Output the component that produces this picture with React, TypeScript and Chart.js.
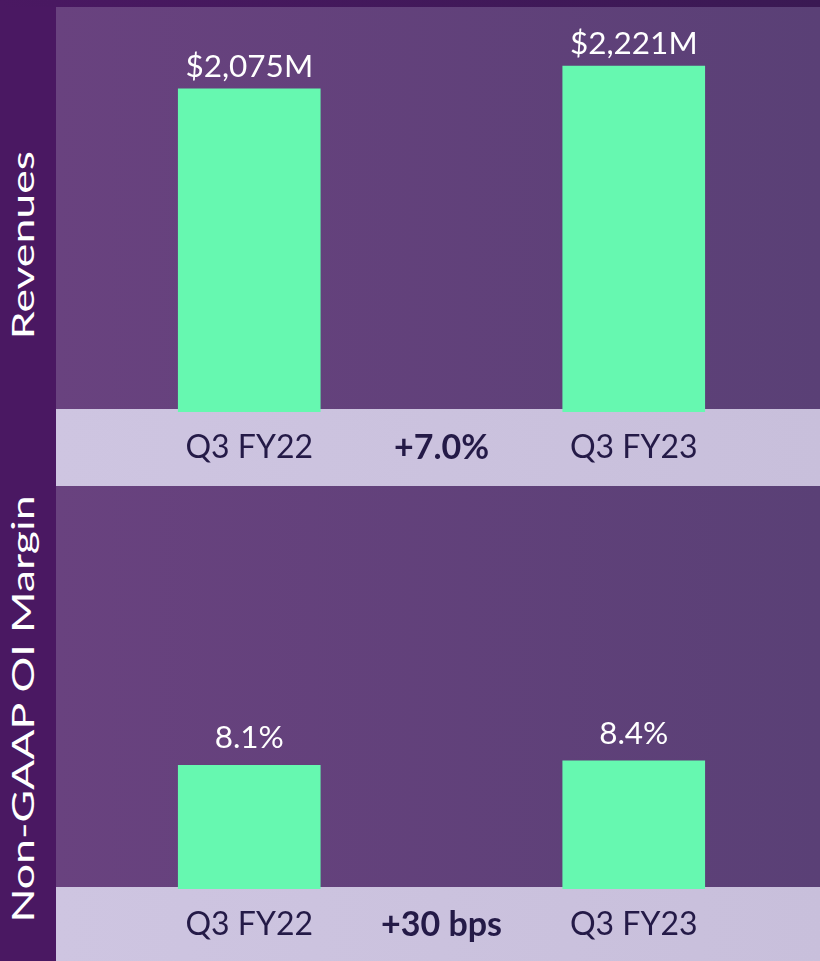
import React, { useEffect, useRef } from "react";
import { Chart, registerables } from "chart.js";

Chart.register(...registerables);

const categories = ["Q3 FY22", "Q3 FY23"];
const revenues = [2075, 2221];
const revenueLabels = ["$2,075M", "$2,221M"];
const revenueChange = "+7.0%";
const margins = [8.1, 8.4];
const marginLabels = ["8.1%", "8.4%"];
const marginChange = "+30 bps";
const revenueMax = 2600;
const marginMax = 26.4;

const FONT = "Lato, 'Open Sans', sans-serif";
const BAR = "#66f8b0";
const DARK = "#241a47";

function decorPlugin(valueLabels: string[], change: string, gap: number, overlap: number, labelOffset: number) {
  return {
    id: "decor",
    beforeDraw(chart: any) {
      const { ctx, chartArea, width, height } = chart;
      ctx.save();
      const g = ctx.createLinearGradient(0, 0, width, 0);
      g.addColorStop(0, "#cec5e1");
      g.addColorStop(1, "#c8bfdb");
      ctx.fillStyle = g;
      ctx.fillRect(0, chartArea.bottom - overlap, width, height - chartArea.bottom + overlap);
      ctx.restore();
    },
    afterDatasetsDraw(chart: any) {
      const { ctx, chartArea } = chart;
      const meta = chart.getDatasetMeta(0);
      ctx.save();
      ctx.font = `400 31.5px ${FONT}`;
      ctx.fillStyle = "#ffffff";
      ctx.textAlign = "center";
      ctx.textBaseline = "alphabetic";
      meta.data.forEach((bar: any, i: number) => {
        ctx.fillText(valueLabels[i], bar.x, bar.y - gap);
      });
      const xs = chart.scales.x;
      const mid = (xs.getPixelForValue(0) + xs.getPixelForValue(1)) / 2;
      ctx.font = `700 34px ${FONT}`;
      ctx.fillStyle = DARK;
      ctx.textBaseline = "middle";
      ctx.fillText(change, mid, chartArea.bottom + labelOffset);
      ctx.restore();
    },
  };
}

function makeConfig(values: number[], max: number, axisHeight: number, plugin: any) {
  return {
    type: "bar" as const,
    data: {
      labels: categories,
      datasets: [
        {
          data: values,
          backgroundColor: BAR,
          borderWidth: 0,
          barThickness: 142,
        },
      ],
    },
    options: {
      animation: false as const,
      responsive: false,
      maintainAspectRatio: false,
      layout: { padding: { left: 1, right: 0, top: 0, bottom: 0 } },
      plugins: { legend: { display: false }, tooltip: { enabled: false } },
      scales: {
        x: {
          grid: { display: false, drawTicks: false },
          border: { display: false },
          ticks: { color: DARK, font: { family: FONT, size: 32, weight: "400" }, padding: 16 },
          afterFit: (s: any) => {
            s.height = axisHeight;
          },
        },
        y: { display: false, min: 0, max },
      },
    },
    plugins: [plugin],
  };
}

export default function App() {
  const topRef = useRef<HTMLCanvasElement>(null);
  const botRef = useRef<HTMLCanvasElement>(null);

  useEffect(() => {
    const c1 = new Chart(
      topRef.current!,
      makeConfig(revenues, revenueMax, 74, decorPlugin(revenueLabels, revenueChange, 12, 3, 36)) as any
    );
    const c2 = new Chart(
      botRef.current!,
      makeConfig(margins, marginMax, 72, decorPlugin(marginLabels, marginChange, 17, 2, 36)) as any
    );
    return () => {
      c1.destroy();
      c2.destroy();
    };
  }, []);

  const panelBg = "linear-gradient(to right, #69427f, #5a4076)";
  const side: React.CSSProperties = {
    position: "absolute",
    transform: "translate(-50%, -50%) rotate(-90deg) scaleX(1.44)",
    color: "#ffffff",
    fontFamily: FONT,
    fontSize: 31,
    lineHeight: 1,
    whiteSpace: "nowrap",
  };

  return (
    <div
      style={{
        position: "absolute",
        left: 0,
        top: 0,
        width: 820,
        height: 961,
        overflow: "hidden",
        background: "#4a1862",
      }}
    >
      <div style={{ position: "absolute", left: 0, top: 0, width: 820, height: 7, background: "linear-gradient(to right, #4a1862, #3a1953)" }} />
      <div style={{ position: "absolute", left: 56, top: 7, width: 764, height: 479, background: panelBg }} />
      <div style={{ position: "absolute", left: 56, top: 486, width: 764, height: 475, background: panelBg }} />
      <canvas ref={topRef} width={770} height={479} style={{ position: "absolute", left: 56, top: 7, width: 770, height: 479 }} />
      <canvas ref={botRef} width={770} height={475} style={{ position: "absolute", left: 56, top: 486, width: 770, height: 475 }} />
      <div style={{ ...side, left: 22, top: 245 }}>Revenues</div>
      <div style={{ ...side, left: 22, top: 709 }}>Non-GAAP OI Margin</div>
    </div>
  );
}
